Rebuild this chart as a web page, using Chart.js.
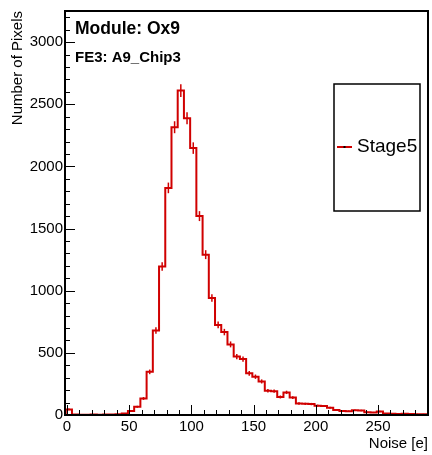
<!DOCTYPE html>
<html>
<head>
<meta charset="utf-8">
<title>Noise - Module Ox9 FE3</title>
<script src="https://cdn.jsdelivr.net/npm/chart.js@4.4.1/dist/chart.umd.min.js"></script>
<style>
  html, body { margin: 0; padding: 0; background: #fff; }
  #wrap { width: 432px; height: 455px; }
</style>
</head>
<body>
<div id="wrap"><canvas id="noiseChart" width="432" height="455"></canvas></div>
<script>
// histogram bins (lower edges, last entry is the upper edge of the last bin)
const binEdges = [-1, 4, 9, 14, 19, 24, 29, 34, 39, 44, 49, 54, 59, 64, 69, 74, 79, 84, 89, 94,
  99, 104, 109, 114, 119, 124, 129, 134, 139, 144, 149, 154, 159, 164, 169, 174, 179, 184, 189, 194,
  199, 204, 209, 214, 219, 224, 229, 234, 239, 244, 249, 254, 259, 264, 269, 274, 279, 284, 289, 294];
const counts = [45, 5, 3, 3, 4, 3, 4, 5, 6, 12,
  32, 66, 133, 347, 680, 1195, 1827, 2315, 2610, 2387,
  2147, 1600, 1290, 941, 725, 667, 568, 470, 450, 335,
  308, 270, 195, 192, 145, 182, 140, 92, 90, 88,
  75, 72, 58, 40, 32, 30, 38, 36, 22, 20,
  28, 12, 10, 9, 10, 8, 7, 7, 6];
const xTicks = [0, 50, 100, 150, 200, 250];
const yTicks = [0, 500, 1000, 1500, 2000, 2500, 3000];
const seriesName = 'Stage5';
const moduleLabel = 'Module: Ox9';
const chipLabel = 'FE3: A9_Chip3';
const xTitle = 'Noise [e]';
const yTitle = 'Number of Pixels';

const FONT = '"Liberation Sans", Arial, Helvetica, sans-serif';
const RED = '#d00000';

// step outline: start at zero, one point per bin low edge, close at last upper edge
const points = [{ x: binEdges[0], y: 0 }];
counts.forEach((c, i) => points.push({ x: binEdges[i], y: c }));
points.push({ x: binEdges[counts.length], y: counts[counts.length - 1] });

// ROOT look: error bars, frame, inward ticks, labels and legend box
const rootStyle = {
  id: 'rootStyle',
  afterDatasetsDraw(chart) {
    const { ctx, chartArea: a, scales: { x, y } } = chart;

    ctx.save();
    ctx.beginPath();
    ctx.rect(a.left, a.top, a.right - a.left, a.bottom - a.top);
    ctx.clip();
    ctx.strokeStyle = RED;
    ctx.lineWidth = 1.5;
    counts.forEach((c, i) => {
      if (!c) return;
      const cx = x.getPixelForValue((binEdges[i] + binEdges[i + 1]) / 2);
      const err = Math.sqrt(c);
      ctx.beginPath();
      ctx.moveTo(cx, y.getPixelForValue(c - err));
      ctx.lineTo(cx, y.getPixelForValue(c + err));
      ctx.stroke();
    });
    ctx.restore();

    ctx.save();
    ctx.strokeStyle = '#000';
    ctx.lineWidth = 1;
    // x ticks, pointing up into the frame
    for (let v = 0; v <= x.max; v += 10) {
      const px = Math.round(x.getPixelForValue(v)) + 0.5;
      const len = v % 50 === 0 ? 10 : 5;
      ctx.beginPath();
      ctx.moveTo(px, a.bottom);
      ctx.lineTo(px, a.bottom - len);
      ctx.stroke();
    }
    // y ticks, pointing right into the frame
    for (let v = 0; v <= y.max; v += 100) {
      const py = Math.round(y.getPixelForValue(v)) + 0.5;
      const len = v % 500 === 0 ? 10 : 5;
      ctx.beginPath();
      ctx.moveTo(a.left, py);
      ctx.lineTo(a.left + len, py);
      ctx.stroke();
    }
    ctx.lineWidth = 2;
    ctx.strokeRect(a.left, a.top, a.right - a.left, a.bottom - a.top);

    // labels top-left
    ctx.fillStyle = '#000';
    ctx.textBaseline = 'alphabetic';
    ctx.textAlign = 'left';
    ctx.font = 'bold 17.5px ' + FONT;
    ctx.fillText(moduleLabel, 75, 34);
    ctx.font = 'bold 15px ' + FONT;
    ctx.fillText(chipLabel, 75, 62);

    // legend box
    ctx.lineWidth = 1.5;
    ctx.strokeRect(334, 84, 86, 127);
    ctx.strokeStyle = RED;
    ctx.lineWidth = 2;
    ctx.beginPath();
    ctx.moveTo(337, 147);
    ctx.lineTo(352, 147);
    ctx.stroke();
    ctx.fillStyle = '#000';
    ctx.fillRect(343.5, 146, 2, 2);
    ctx.font = '19px ' + FONT;
    ctx.textBaseline = 'middle';
    ctx.fillText(seriesName, 357, 147);
    ctx.restore();
  }
};

const tickFont = { family: FONT, size: 15 };

new Chart(document.getElementById('noiseChart'), {
  type: 'line',
  data: {
    datasets: [{
      label: seriesName,
      data: points,
      stepped: 'before',
      borderColor: RED,
      borderWidth: 2,
      borderJoinStyle: 'miter',
      pointRadius: 0,
      fill: false
    }]
  },
  options: {
    responsive: false,
    animation: false,
    devicePixelRatio: 1,
    layout: { padding: { top: 8, right: 4, left: 0, bottom: 0 } },
    plugins: { legend: { display: false }, tooltip: { enabled: false } },
    scales: {
      x: {
        type: 'linear',
        min: -1.6,
        max: 290.2,
        afterBuildTicks: s => { s.ticks = xTicks.map(v => ({ value: v })); },
        afterFit: s => { s.height = 40; },
        grid: { display: false, drawTicks: false },
        border: { display: false },
        ticks: { color: '#000', font: tickFont, padding: 3, maxRotation: 0, autoSkip: false, callback: v => String(v) },
        title: { display: true, text: xTitle, align: 'end', color: '#000', font: tickFont, padding: { top: 0, bottom: 2 } }
      },
      y: {
        type: 'linear',
        min: 0,
        max: 3250,
        afterBuildTicks: s => { s.ticks = yTicks.map(v => ({ value: v })); },
        afterFit: s => { s.width = 65; },
        grid: { display: false, drawTicks: false },
        border: { display: false },
        ticks: { color: '#000', font: tickFont, padding: 2, callback: v => String(v) },
        title: { display: true, text: yTitle, align: 'end', color: '#000', font: tickFont, padding: { top: 9, bottom: 0 } }
      }
    }
  },
  plugins: [rootStyle]
});
</script>
</body>
</html>
